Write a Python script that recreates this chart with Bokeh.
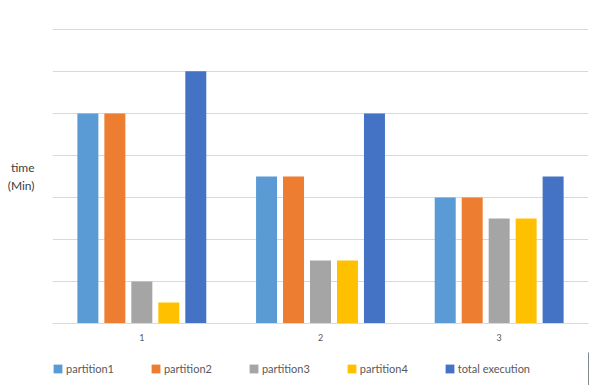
from bokeh.plotting import figure
from bokeh.layouts import column
from bokeh.models import ColumnDataSource, Legend, LegendItem, FixedTicker, Range1d
from bokeh.transform import dodge
from bokeh.embed import file_html
from bokeh.resources import INLINE

# ---- data ----
runs = [1, 2, 3]
partition1 = [5, 3.5, 3]
partition2 = [5, 3.5, 3]
partition3 = [1, 1.5, 2.5]
partition4 = [0.5, 1.5, 2.5]
total_execution = [6, 5, 3.5]
series_names = ["partition1", "partition2", "partition3", "partition4", "total execution"]
series_keys = ["p1", "p2", "p3", "p4", "total"]
colors = ["#5B9BD5", "#ED7D31", "#A5A5A5", "#FFC000", "#4472C4"]
y_ticks = [0, 1, 2, 3, 4, 5, 6, 7]

source = ColumnDataSource(dict(
    run=runs, p1=partition1, p2=partition2, p3=partition3, p4=partition4, total=total_execution
))

FONT = "Lato"

p = figure(width=598, height=352, output_backend="svg", toolbar_location=None,
           x_range=Range1d(0.5, 3.5), y_range=Range1d(0, 7.02),
           min_border_left=52, min_border_right=10, min_border_top=28, min_border_bottom=29)
p.outline_line_color = None
p.background_fill_color = "white"
p.border_fill_color = "white"

bar_w = 0.1175
step = 0.151
offsets = [-2 * step, -step, 0, step, 2 * step]
for key, color, off in zip(series_keys, colors, offsets):
    p.vbar(x=dodge("run", off), top=key, width=bar_w, bottom=0, source=source,
           fill_color=color, line_color=None)

p.xgrid.visible = False
p.ygrid.ticker = FixedTicker(ticks=y_ticks)
p.ygrid.grid_line_color = "#d9d9d9"
p.ygrid.grid_line_width = 1

p.yaxis.ticker = FixedTicker(ticks=[])
p.yaxis.major_tick_line_color = None
p.yaxis.minor_tick_line_color = None
p.yaxis.axis_line_color = None
p.yaxis.axis_label = "time\n(Min)"
p.yaxis.axis_label_orientation = "horizontal"
p.yaxis.axis_label_text_font = FONT
p.yaxis.axis_label_text_font_size = "12px"
p.yaxis.axis_label_text_font_style = "normal"
p.yaxis.axis_label_text_color = "#404040"
p.yaxis.axis_label_text_align = "left"
p.yaxis.axis_label_standoff = 18

p.xaxis.ticker = FixedTicker(ticks=runs)
p.xaxis.major_tick_line_color = None
p.xaxis.minor_tick_line_color = None
p.xaxis.axis_line_color = "#d9d9d9"
p.xaxis.major_label_text_font = FONT
p.xaxis.major_label_text_font_size = "9px"
p.xaxis.major_label_text_color = "#595959"
p.xaxis.major_label_standoff = 4

# ---- legend strip (series drawn out of its visible range; only the legend shows) ----
lg = figure(width=598, height=33, output_backend="svg", toolbar_location=None,
            x_range=Range1d(0, 0.5), y_range=Range1d(0, 1),
            min_border_left=0, min_border_right=0, min_border_top=0, min_border_bottom=0)
lg.axis.visible = False
lg.grid.visible = False
lg.outline_line_color = None
lg.border_fill_color = "white"
lg.background_fill_color = "white"
items = []
for key, name, color in zip(series_keys, series_names, colors):
    r = lg.vbar(x="run", top=key, width=0.1, source=source, fill_color=color, line_color=None)
    items.append(LegendItem(label=name, renderers=[r]))

legend = Legend(items=items, orientation="horizontal", location=(0, 10),
                border_line_color=None, background_fill_alpha=0,
                label_text_font=FONT, label_text_font_size="11px", label_text_color="#595959",
                glyph_width=11, glyph_height=11, label_standoff=3, spacing=36,
                padding=0, margin=0)
lg.add_layout(legend)

layout = column(p, lg, spacing=0)
open("out.html", "w").write(file_html(layout, INLINE))
